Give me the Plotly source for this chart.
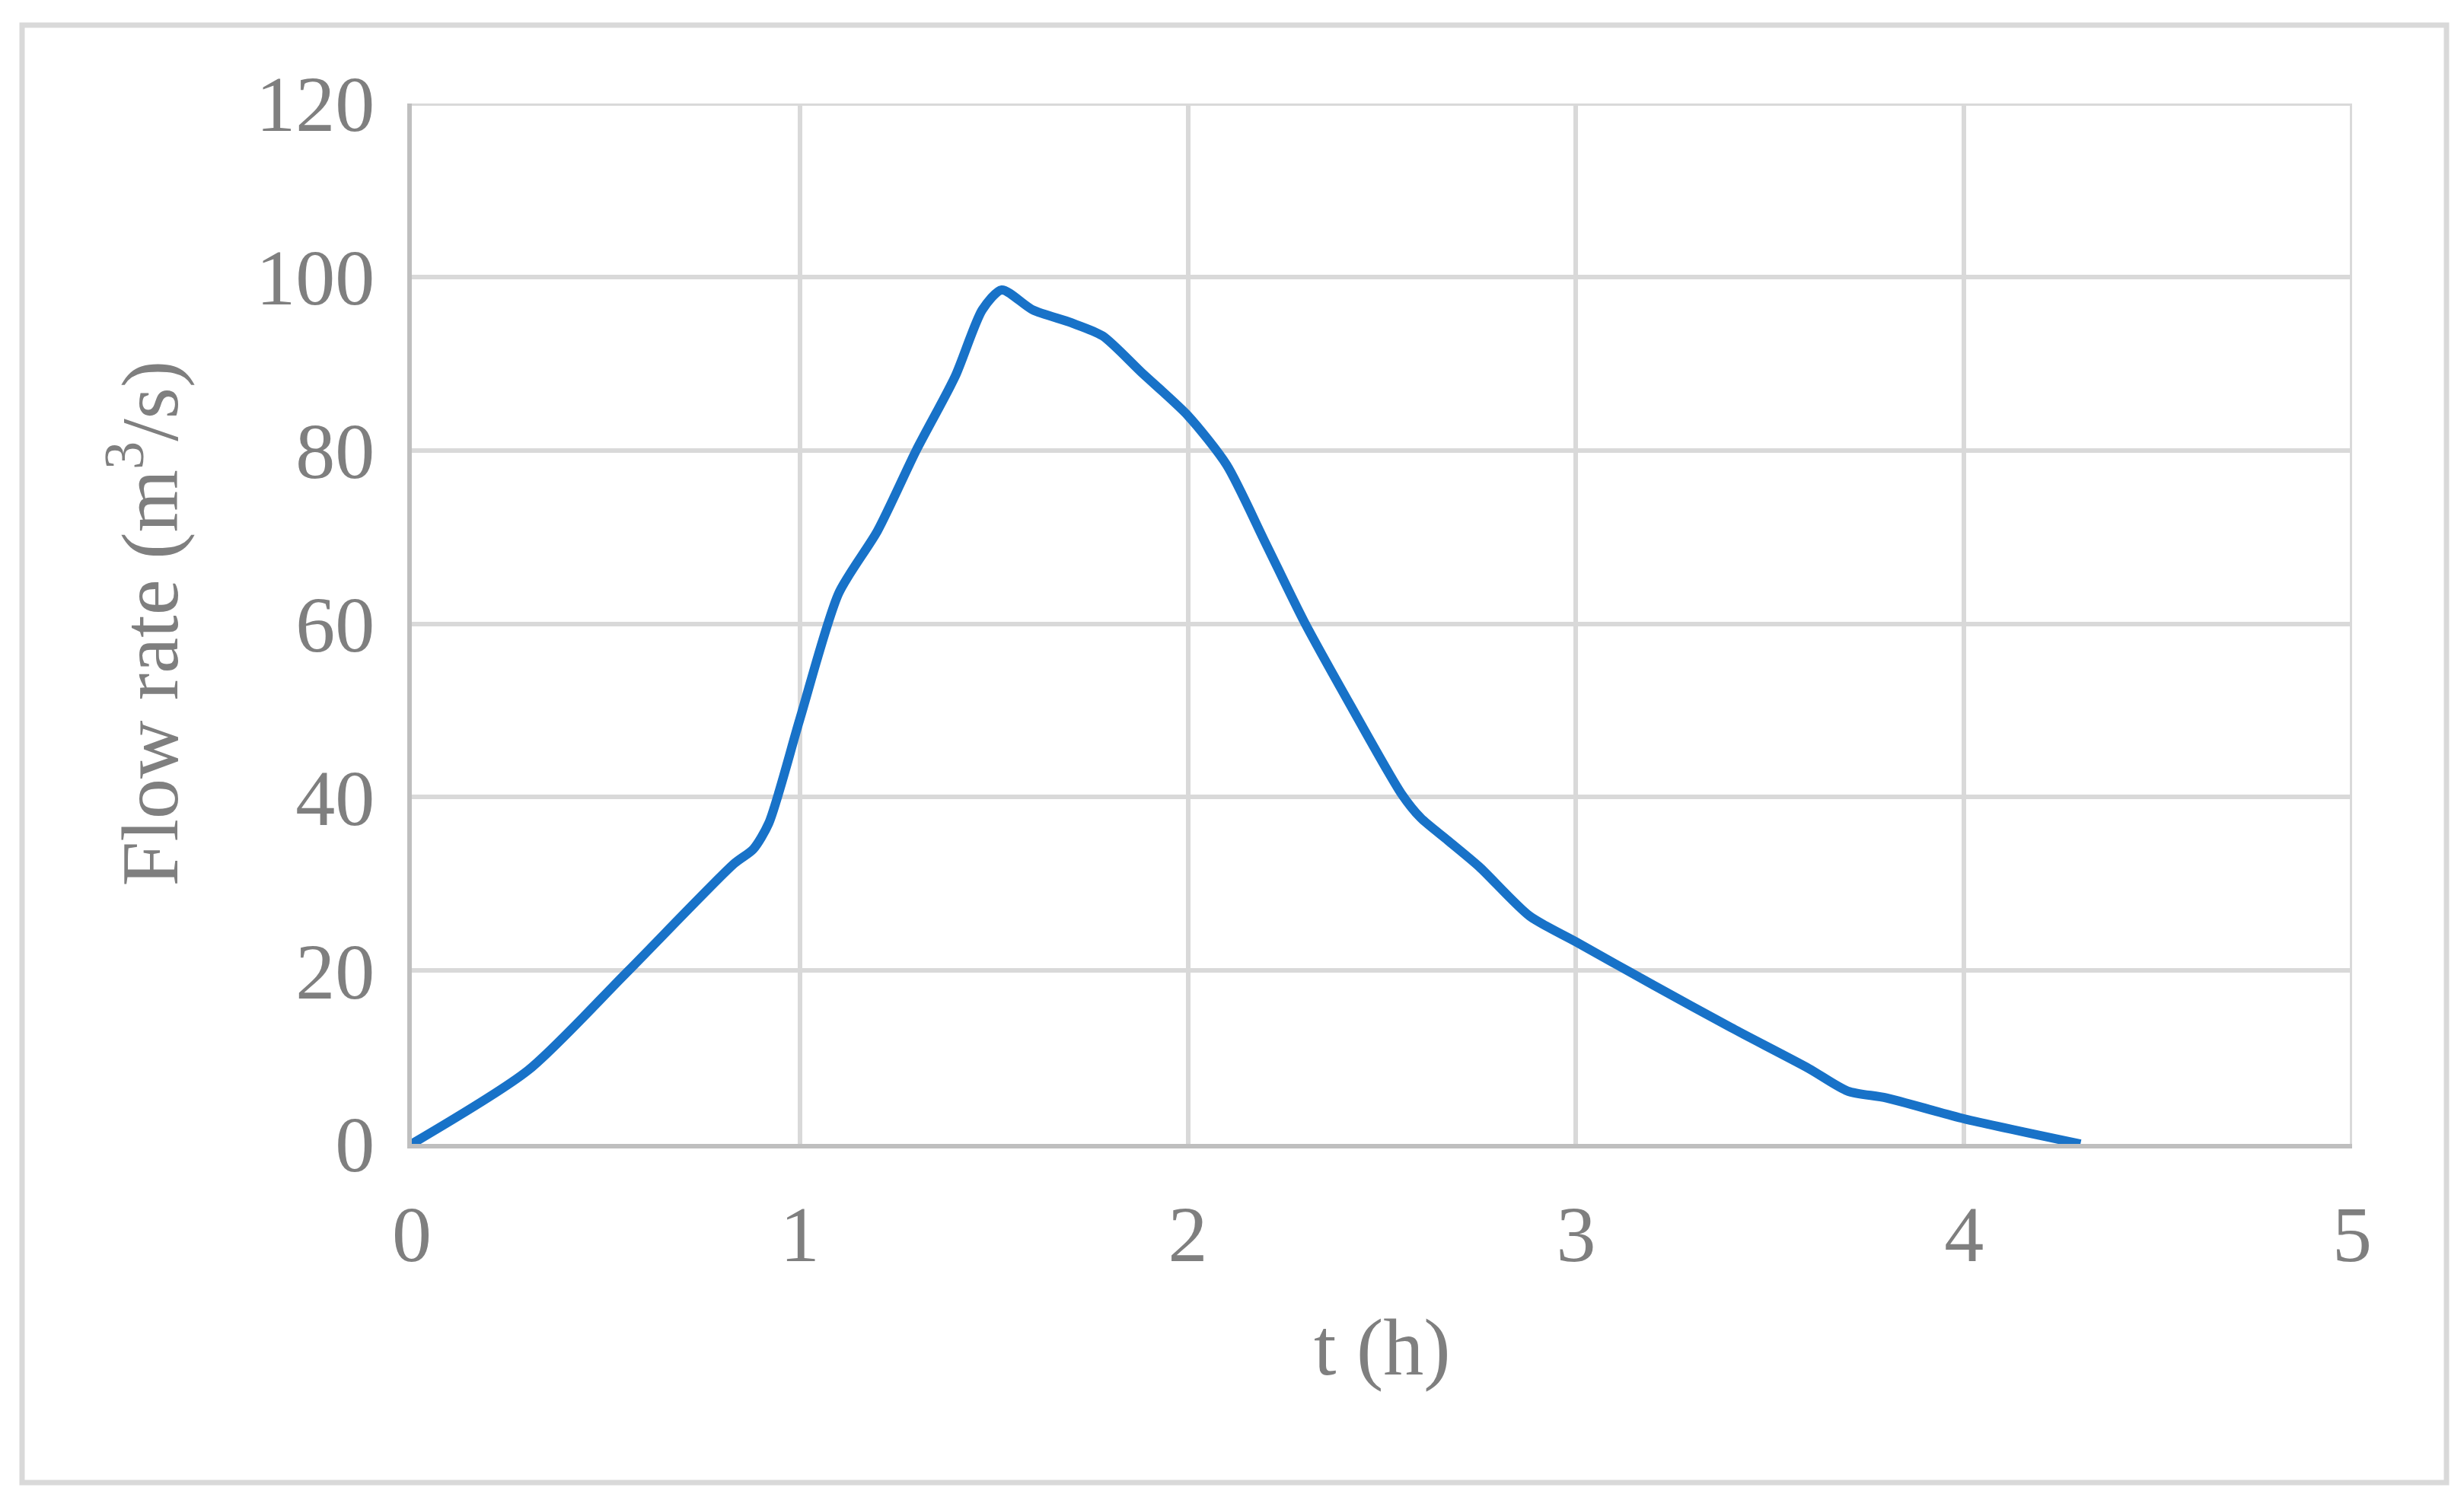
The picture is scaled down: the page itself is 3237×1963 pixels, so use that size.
import plotly.graph_objects as go

# Hydrograph values
t_hours = [0, 0.3, 0.55, 0.83, 0.88, 0.92, 1.0, 1.1, 1.2, 1.3, 1.4, 1.47, 1.52,
           1.6, 1.7, 1.78, 1.88, 2.0, 2.1, 2.2, 2.3, 2.42, 2.55, 2.6, 2.67, 2.75,
           2.88, 3.0, 3.2, 3.4, 3.6, 3.7, 3.8, 4.0, 4.3]
flow_rate = [0, 8.5, 19.6, 32.3, 34.0, 37.0, 49.0, 63.5, 70.7, 80.0, 88.5, 96.2, 98.5,
             96.2, 94.7, 93.2, 89.0, 84.0, 78.3, 69.3, 60.2, 50.5, 40.4, 37.6, 35.0, 32.0,
             26.3, 23.3, 18.3, 13.4, 8.7, 6.1, 5.3, 2.9, 0]

x_ticks = [0, 1, 2, 3, 4, 5]
y_ticks = [0, 20, 40, 60, 80, 100, 120]

W, H = 3237, 1963
L, R, T, B = 533, 3237 - 3082, 128, 1963 - 1495
pw, ph = W - L - R, H - T - B

FONT = "Liberation Serif, Times New Roman, serif"
GRAY_TXT = "#7F7F7F"
GRID = "#D9D9D9"
AXIS = "#BFBFBF"

fig = go.Figure()
fig.add_trace(go.Scatter(
    x=t_hours, y=flow_rate, mode="lines",
    line=dict(color="#1872C8", width=12, shape="spline", smoothing=0.7),
    showlegend=False, hoverinfo="skip",
))

fig.update_layout(
    width=W, height=H,
    margin=dict(l=L, r=R, t=T, b=B, autoexpand=False),
    paper_bgcolor="white", plot_bgcolor="white",
    font=dict(family=FONT, color=GRAY_TXT, size=104),
    showlegend=False,
)

fig.update_xaxes(
    range=[0, 5], tickvals=x_ticks, ticktext=[str(v) for v in x_ticks],
    showgrid=True, gridcolor=GRID, gridwidth=6,
    showline=True, linecolor=AXIS, linewidth=6,
    zeroline=False, ticks="", ticklabelstandoff=23,
    tickfont=dict(family=FONT, size=104, color=GRAY_TXT),
    automargin=False, fixedrange=True, layer="below traces",
)
fig.update_yaxes(
    range=[0, 120], tickvals=y_ticks, ticktext=[str(v) for v in y_ticks],
    showgrid=True, gridcolor=GRID, gridwidth=6,
    showline=True, linecolor=AXIS, linewidth=6,
    zeroline=False, ticks="", ticklabelstandoff=22,
    tickfont=dict(family=FONT, size=104, color=GRAY_TXT),
    automargin=False, fixedrange=True, layer="below traces",
)

# Edge gridlines (top at last y tick, right at last x tick)
fig.add_shape(type="line", xref="x", yref="y",
              x0=x_ticks[0], x1=x_ticks[-1], y0=y_ticks[-1], y1=y_ticks[-1],
              line=dict(color=GRID, width=6), layer="below")
fig.add_shape(type="line", xref="x", yref="y",
              x0=x_ticks[-1], x1=x_ticks[-1], y0=y_ticks[0], y1=y_ticks[-1],
              line=dict(color=GRID, width=6), layer="below")


def px_to_paper_x(px):
    return (px - L) / pw


def px_to_paper_y(py):
    return (H - B - py) / ph


# Axis titles
fig.add_annotation(
    text="t (h)", xref="paper", yref="paper",
    x=px_to_paper_x((533 + 3082) / 2), y=px_to_paper_y(1762),
    xanchor="center", yanchor="middle", showarrow=False,
    font=dict(family=FONT, size=106, color=GRAY_TXT),
)
fig.add_annotation(
    text="Flow rate (m<sup>3</sup>/s)", xref="paper", yref="paper",
    x=px_to_paper_x(181), y=0.5, textangle=-90,
    xanchor="center", yanchor="middle", showarrow=False,
    font=dict(family=FONT, size=106, color=GRAY_TXT),
)

# Chart-area border
fig.add_shape(
    type="rect", xref="paper", yref="paper",
    x0=px_to_paper_x(21), x1=px_to_paper_x(3206),
    y0=px_to_paper_y(1940), y1=px_to_paper_y(25),
    line=dict(color=GRID, width=7), fillcolor="rgba(0,0,0,0)", layer="below",
)

fig.write_html("out.html", config={"displayModeBar": False})
